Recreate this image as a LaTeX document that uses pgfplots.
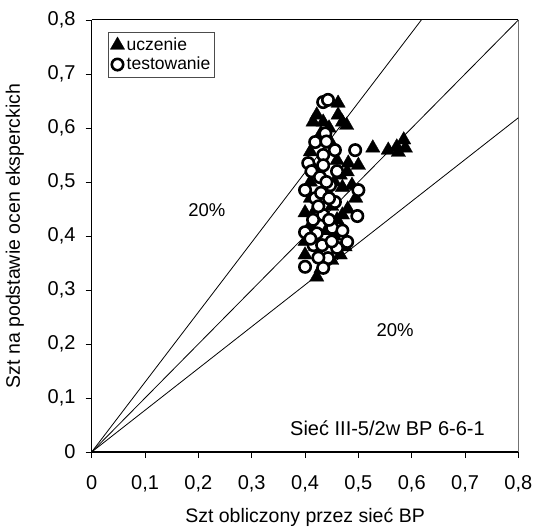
\documentclass[border=0pt]{standalone}
\usepackage{fontspec}
\setmainfont{Liberation Sans}
\usepackage{pgfplots}
\pgfplotsset{compat=1.18}
\begin{document}
\fontsize{18bp}{21bp}\selectfont
\begin{tikzpicture}
\useasboundingbox (-91.7bp,-78bp) rectangle (444.3bp,452bp);
\begin{axis}[
  at={(0,0)}, anchor=south west,
  scale only axis, width=426.7bp, height=432bp,
  xmin=0, xmax=0.8, ymin=0, ymax=0.8,
  axis line style={draw=none},
  xtick={0,0.1,0.2,0.3,0.4,0.5,0.6,0.7,0.8},
  ytick={0,0.1,0.2,0.3,0.4,0.5,0.6,0.7,0.8},
  xtick pos=left, ytick pos=left,
  tick align=outside,
  major tick length=6bp,
  tick style={black, line width=0.8bp},
  /pgf/number format/.cd, use comma, fixed, precision=1, assume math mode=true,
  /pgfplots/.cd,
  ticklabel style={font=\fontsize{20bp}{23bp}\selectfont},
  xticklabel style={yshift=-11bp},
  yticklabel style={xshift=-4bp},
  xlabel={Szt obliczony przez sieć BP},
  ylabel={Szt na podstawie ocen eksperckich},
  label style={font=\fontsize{19.5bp}{23bp}\selectfont},
  xlabel style={at={(axis description cs:0.5,-0.152)}, anchor=center},
  ylabel style={at={(axis description cs:-0.18,0.5)}, anchor=center},
  clip=false,
  legend style={at={(0.038,0.972)}, anchor=north west, draw=black!70, line width=0.8bp,
    font=\fontsize{17.5bp}{19bp}\selectfont, inner xsep=2bp, inner ysep=3bp, row sep=0bp,
    /tikz/every even column/.append style={column sep=0bp}},
  legend cell align=left,
]
% frame
\draw[black, line width=1.5bp] (rel axis cs:0,0) -- (rel axis cs:0,1);
\draw[black, line width=1.5bp] (rel axis cs:0,0) -- (rel axis cs:1,0);
\draw[black, line width=1bp] (rel axis cs:0,1) -- (rel axis cs:1,1);
\draw[black!55, line width=1.2bp] (rel axis cs:1,0) -- (rel axis cs:1,1);
% reference lines
\addplot[black, line width=0.8bp, forget plot] coordinates {(0,0) (0.618,0.8)};
\addplot[black, line width=0.8bp, forget plot] coordinates {(0,0) (0.8,0.8)};
\addplot[black, line width=0.8bp, forget plot] coordinates {(0,0) (0.8,0.619)};
% uczenie
\addplot[only marks, mark=triangle*, mark size=8.3bp, mark options={fill=black, draw=black, line width=0.3bp}] coordinates {
(0.462,0.646) (0.422,0.624) (0.462,0.624) (0.415,0.611) (0.434,0.611) (0.470,0.611) (0.478,0.605)
(0.445,0.600) (0.410,0.556) (0.527,0.563) (0.556,0.559) (0.572,0.565) (0.585,0.578) (0.588,0.563)
(0.575,0.555) (0.481,0.535) (0.500,0.531) (0.466,0.513) (0.479,0.519) (0.455,0.500) (0.420,0.520)
(0.488,0.494) (0.470,0.490) (0.440,0.480) (0.400,0.443) (0.470,0.439) (0.450,0.455) (0.420,0.450)
(0.400,0.365) (0.466,0.365) (0.422,0.324) (0.430,0.340) (0.410,0.420) (0.440,0.410) (0.455,0.400)
(0.400,0.390) (0.460,0.430) (0.410,0.470) (0.430,0.530) (0.450,0.570) (0.430,0.590) (0.420,0.380)
(0.450,0.355) (0.410,0.500) (0.460,0.540) (0.495,0.470) (0.480,0.450) (0.475,0.380)
};
\addlegendentry{uczenie}
% testowanie
\addplot[only marks, mark=*, mark size=5.7bp, mark options={fill=white, draw=black, line width=2.6bp}] coordinates {
(0.434,0.648) (0.443,0.652) (0.438,0.590) (0.419,0.574) (0.456,0.559) (0.494,0.559) (0.434,0.550)
(0.406,0.535) (0.434,0.531) (0.412,0.520) (0.428,0.509) (0.400,0.485) (0.447,0.494) (0.419,0.470)
(0.456,0.463) (0.500,0.485) (0.434,0.439) (0.400,0.407) (0.422,0.405) (0.451,0.415) (0.479,0.389)
(0.460,0.378) (0.416,0.383) (0.432,0.383) (0.443,0.359) (0.400,0.343) (0.434,0.341) (0.498,0.437)
(0.440,0.500) (0.425,0.455) (0.445,0.430) (0.415,0.430) (0.460,0.520) (0.440,0.575) (0.470,0.410)
(0.425,0.360) (0.410,0.395) (0.450,0.390) (0.430,0.480) (0.445,0.470)
};
\addlegendentry{testowanie}
\node[font=\fontsize{18.5bp}{21bp}\selectfont] at (axis cs:0.216,0.448) {20\%};
\node[font=\fontsize{18.5bp}{21bp}\selectfont] at (axis cs:0.569,0.226) {20\%};
\node[font=\fontsize{20bp}{23bp}\selectfont] at (axis cs:0.5545,0.044) {Sieć III-5/2w BP 6-6-1};
\end{axis}
\end{tikzpicture}
\end{document}
